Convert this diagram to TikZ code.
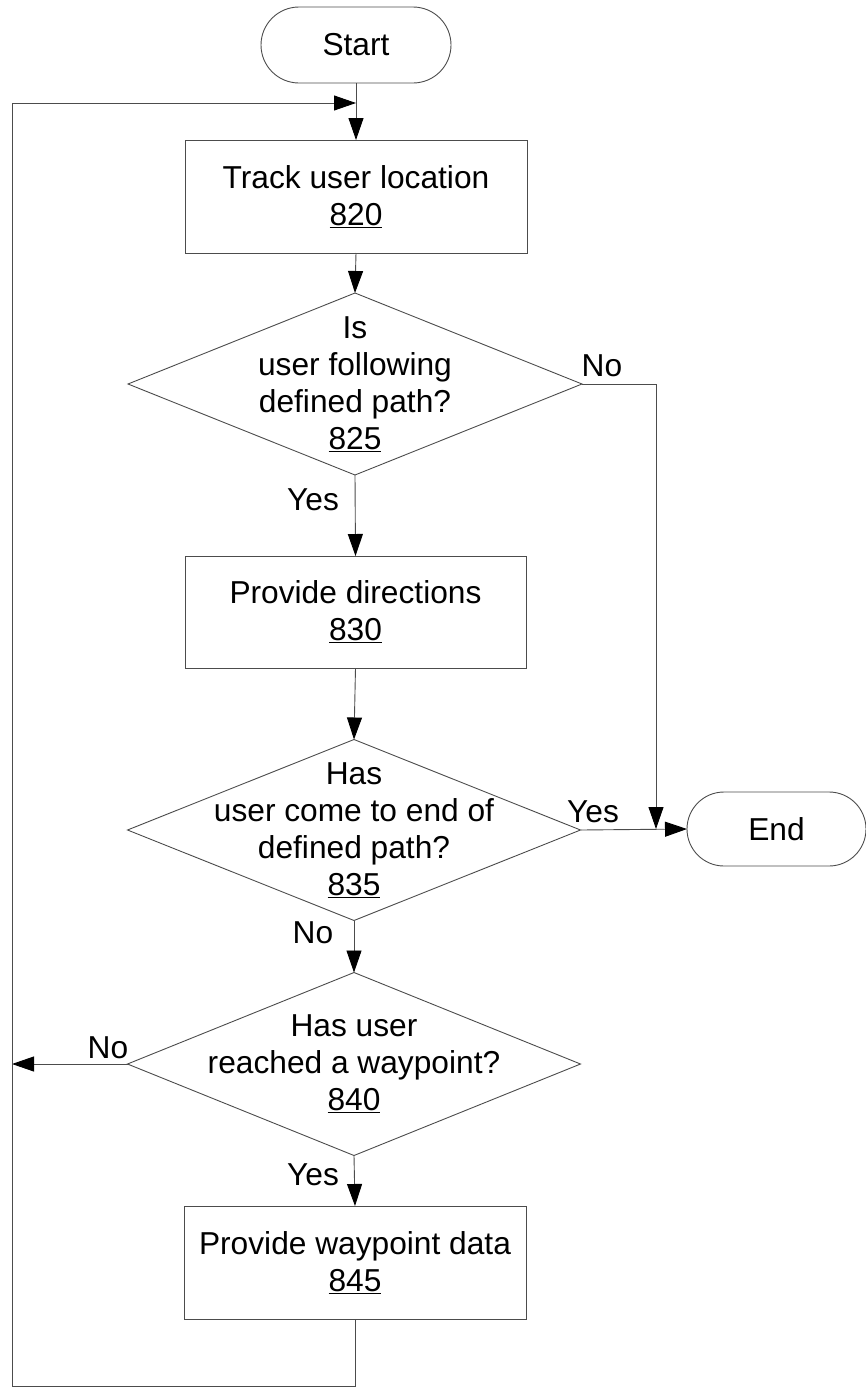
\documentclass[tikz,border=0pt]{standalone}
\usepackage{fontspec}
\setmainfont{Liberation Sans}
\usetikzlibrary{arrows.meta,shapes.geometric,shapes.misc}
\begin{document}
\begin{tikzpicture}[x=1pt,y=-1pt,
  every node/.style={font=\fontsize{31.7}{37}\selectfont},
  ln/.style={draw=black!70,line width=0.9pt},
  box/.style={ln,rectangle,inner sep=0pt,outer sep=0pt,align=center},
  term/.style={ln,rounded rectangle,inner sep=0pt,outer sep=0pt},
  dia/.style={ln,diamond,inner sep=0pt,outer sep=0pt},
  txt/.style={align=center,inner sep=0pt},
  arr/.style={draw=black!70,line width=0.9pt,-{Triangle[length=22pt,width=15pt,color=black]}},
  lbl/.style={inner sep=0pt}]
\useasboundingbox (0,0) rectangle (866,1387);
% nodes
\node[term,minimum width=190pt,minimum height=76pt] (start) at (356,45) {Start};
\node[box,minimum width=342pt,minimum height=113pt] (b820) at (356,196.5) {Track user location\\\underline{820}};
\node[dia,minimum width=454pt,minimum height=182pt] (d825) at (355,384) {};
\node[txt] (t825) at (d825.center) {Is\\user following\\defined path?\\\underline{825}};
\node[box,minimum width=341pt,minimum height=112pt] (b830) at (355.5,612) {Provide directions\\\underline{830}};
\node[dia,minimum width=453pt,minimum height=181pt] (d835) at (354,830) {};
\node[txt] (t835) at (d835.center) {Has\\user come to end of\\defined path?\\\underline{835}};
\node[term,minimum width=179pt,minimum height=74pt,anchor=west] (end) at (687,829) {End};
\node[dia,minimum width=453pt,minimum height=183pt] (d840) at (354,1064) {};
\node[txt] (t840) at (d840.center) {Has user\\reached a waypoint?\\\underline{840}};
\node[box,minimum width=342pt,minimum height=113pt] (b845) at (355,1262.5) {Provide waypoint data\\\underline{845}};
% coordinates
\coordinate (join) at (356,103);
\coordinate (bl) at (12,1386);
\coordinate (tl) at (12,103);
\coordinate (jend) at (656,829);
\coordinate (nleft) at (12,1064);
% connectors
\draw[arr] (start.south) -- (b820.north);
\draw[arr] (b820.south) -- (d825.north);
\draw[arr] (d825.south) -- (b830.north);
\draw[arr] (b830.south) -- (d835.north);
\draw[arr] (d835.south) -- (d840.north);
\draw[arr] (d840.south) -- (b845.north);
\draw[arr] (d835.east) -- (end.west);
\draw[arr] (d825.east) -| (jend);
\draw[arr] (d840.west) -- (nleft);
\draw[arr] (b845.south) |- (bl) -- (tl) -- (join);
% labels
\node[lbl] (lno1) at (602,366) {No};
\node[lbl] (lyes1) at (313,500) {Yes};
\node[lbl] (lyes2) at (593,812) {Yes};
\node[lbl] (lno2) at (313,933) {No};
\node[lbl] (lno3) at (108,1048) {No};
\node[lbl] (lyes3) at (313,1175) {Yes};
\end{tikzpicture}
\end{document}
